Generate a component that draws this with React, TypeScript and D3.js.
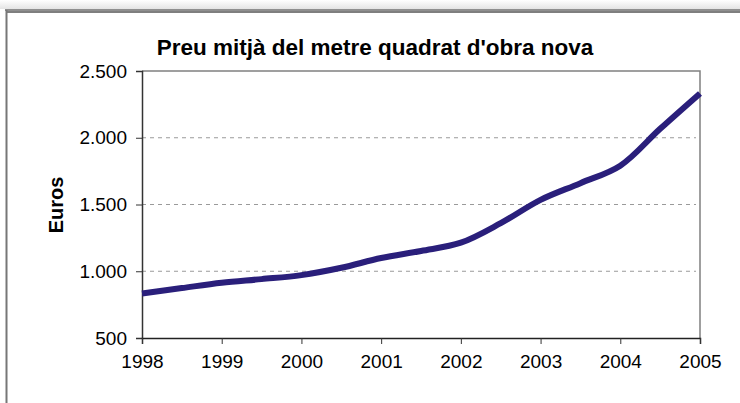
import * as d3 from 'd3';
import { useEffect, useRef } from 'react';

const years = [1998, 1998.5, 1999, 1999.5, 2000, 2000.5, 2001, 2001.5, 2002, 2002.5, 2003, 2003.5, 2004, 2004.5, 2005];
const prices = [833, 874, 914, 941, 971, 1026, 1099, 1152, 1214, 1360, 1535, 1660, 1791, 2067, 2332];
const xTicks = [1998, 1999, 2000, 2001, 2002, 2003, 2004, 2005];
const yTicks = [500, 1000, 1500, 2000, 2500];
const gridValues = [1000, 1500, 2000];

const title = "Preu mitjà del metre quadrat d'obra nova";
const yLabel = 'Euros';

export default function App() {
    const ref = useRef<SVGSVGElement | null>(null);

    useEffect(() => {
        const svg = d3.select(ref.current);
        svg.selectAll('*').remove();

        const width = 740;
        const height = 403;
        const margin = { top: 71, right: 40, bottom: 65, left: 142 };
        const font = 'Arial, "Liberation Sans", sans-serif';

        svg.attr('width', width).attr('height', height);

        svg.append('rect').attr('width', width).attr('height', height).attr('fill', '#fff');

        // faint shading above the chart frame
        const grad = svg.append('defs').append('linearGradient')
            .attr('id', 'topShade').attr('x1', 0).attr('y1', 0).attr('x2', 0).attr('y2', 1);
        grad.append('stop').attr('offset', '0%').attr('stop-color', '#ffffff');
        grad.append('stop').attr('offset', '100%').attr('stop-color', '#e4e4e4');
        svg.append('rect').attr('x', 0).attr('y', 0).attr('width', width).attr('height', 9)
            .attr('fill', 'url(#topShade)');

        // chart area frame
        svg.append('line').attr('x1', 5).attr('x2', width).attr('y1', 10).attr('y2', 10)
            .attr('stroke', '#6a6a6a').attr('stroke-width', 1.5);
        svg.append('line').attr('x1', 7).attr('x2', width).attr('y1', 12).attr('y2', 12)
            .attr('stroke', '#000').attr('stroke-width', 1.2);
        svg.append('line').attr('x1', 6.5).attr('x2', 6.5).attr('y1', 10).attr('y2', height)
            .attr('stroke', '#777').attr('stroke-width', 2);

        const x = d3.scaleLinear()
            .domain([1998, 2005])
            .range([margin.left, width - margin.right]);

        const y = d3.scaleLinear()
            .domain([500, 2500])
            .range([height - margin.bottom, margin.top]);

        // plot area border (top/right)
        svg.append('path')
            .attr('d', `M${x(1998)},${y(2500)}H${x(2005)}V${y(500)}`)
            .attr('fill', 'none')
            .attr('stroke', '#808080')
            .attr('stroke-width', 1.5);

        // gridlines
        svg.append('g')
            .selectAll('line')
            .data(gridValues)
            .enter()
            .append('line')
            .attr('x1', x(1998))
            .attr('x2', x(2005) - 4)
            .attr('y1', d => y(d))
            .attr('y2', d => y(d))
            .attr('stroke', '#9a9a9a')
            .attr('stroke-width', 1)
            .attr('stroke-dasharray', '4,4');

        // y axis
        const yAxis = svg.append('g')
            .attr('transform', `translate(${x(1998)},0)`)
            .call(d3.axisLeft(y).tickValues(yTicks).tickSize(6).tickPadding(9)
                .tickFormat(d => d3.format(',')(d as number).replace(/,/g, '.')));
        yAxis.select('.domain').attr('stroke', '#333').attr('stroke-width', 1.5);
        yAxis.selectAll('.tick line').attr('stroke', '#333');
        yAxis.selectAll('text')
            .attr('font-family', font)
            .attr('font-size', 19)
            .attr('fill', '#000');

        // x axis
        const xAxis = svg.append('g')
            .attr('transform', `translate(0,${y(500)})`)
            .call(d3.axisBottom(x).tickValues(xTicks).tickSize(6).tickPadding(11)
                .tickFormat(d => String(d)));
        xAxis.select('.domain').attr('stroke', '#222').attr('stroke-width', 1.5);
        xAxis.selectAll('.tick line').attr('stroke', '#333');
        xAxis.selectAll('text')
            .attr('font-family', font)
            .attr('font-size', 19)
            .attr('fill', '#000');

        // price line
        const line = d3.line<number>()
            .x((_, i) => x(years[i]))
            .y(d => y(d))
            .curve(d3.curveCatmullRom.alpha(0.5));

        svg.append('path')
            .datum(prices)
            .attr('d', line)
            .attr('fill', 'none')
            .attr('stroke', '#2a1f7b')
            .attr('stroke-width', 6)
            .attr('stroke-linejoin', 'round');

        // title
        svg.append('text')
            .attr('x', 375)
            .attr('y', 55)
            .attr('text-anchor', 'middle')
            .attr('font-family', font)
            .attr('font-weight', 'bold')
            .attr('font-size', 22.5)
            .attr('fill', '#000')
            .text(title);

        // y label
        svg.append('text')
            .attr('transform', `translate(63,205) rotate(-90)`)
            .attr('text-anchor', 'middle')
            .attr('font-family', font)
            .attr('font-weight', 'bold')
            .attr('font-size', 20)
            .attr('fill', '#000')
            .text(yLabel);
    }, []);

    return <svg ref={ref} style={{ position: 'absolute', left: 0, top: 0 }}></svg>;
}
